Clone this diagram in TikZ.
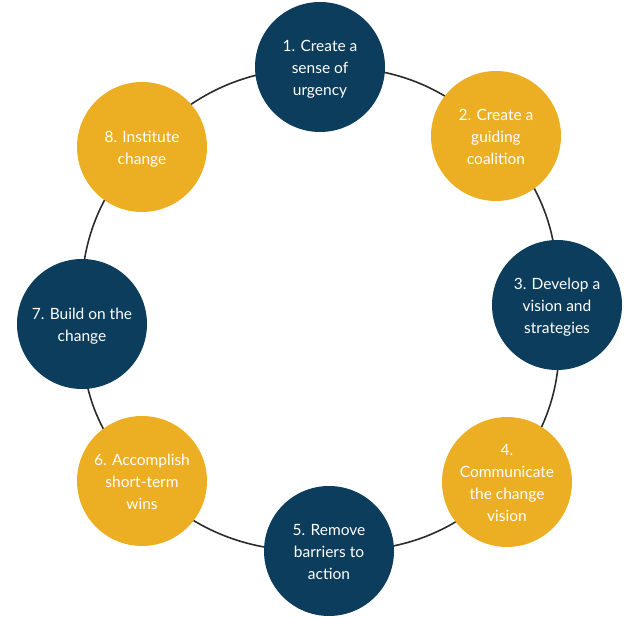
\documentclass[tikz,border=0pt]{standalone}
\usepackage{fontspec}
\setmainfont{Lato}
\usetikzlibrary{backgrounds}
\definecolor{navy}{HTML}{0C3D5C}
\definecolor{gold}{HTML}{ECAF24}
\definecolor{ring}{HTML}{2B2B2B}
\newcommand{\stagetext}[1]{\raisebox{-2.5pt}[\height][\depth]{\begin{tabular}{@{}c@{}}#1\end{tabular}}}
\begin{document}
\begin{tikzpicture}[x=1pt,y=1pt,
  stage/.style={circle,minimum size=130pt,inner sep=0pt,text=white,
    font=\fontsize{15.5}{22}\selectfont},
  navystage/.style={stage,fill=navy},
  goldstage/.style={stage,fill=gold},
  link/.style={draw=ring,line width=1.6pt,bend left=22.5}]
\useasboundingbox (0,0) rectangle (640,618);
\node[navystage] (n1) at (320,551) {\stagetext{1. Create a\\sense of\\urgency}};
\node[goldstage] (n2) at (496,482) {\stagetext{2. Create a\\guiding\\coalition}};
\node[navystage] (n3) at (557,313) {\stagetext{3. Develop a\\vision and\\strategies}};
\node[goldstage] (n4) at (507,136) {\stagetext{4.\\Communicate\\the change\\vision}};
\node[navystage] (n5) at (329,67) {\stagetext{5. Remove\\barriers to\\action}};
\node[goldstage] (n6) at (142,137) {\stagetext{6. Accomplish\\short-term\\wins}};
\node[navystage] (n7) at (82,294) {\stagetext{7. Build on the\\change}};
\node[goldstage] (n8) at (142,471) {\stagetext{8. Institute\\change}};
\begin{pgfonlayer}{background}
\draw[link] (n1.center) to (n2.center);
\draw[link] (n2.center) to (n3.center);
\draw[link] (n3.center) to (n4.center);
\draw[link] (n4.center) to (n5.center);
\draw[link] (n5.center) to (n6.center);
\draw[link] (n6.center) to (n7.center);
\draw[link] (n7.center) to (n8.center);
\draw[link] (n8.center) to (n1.center);
\end{pgfonlayer}
\end{tikzpicture}
\end{document}
